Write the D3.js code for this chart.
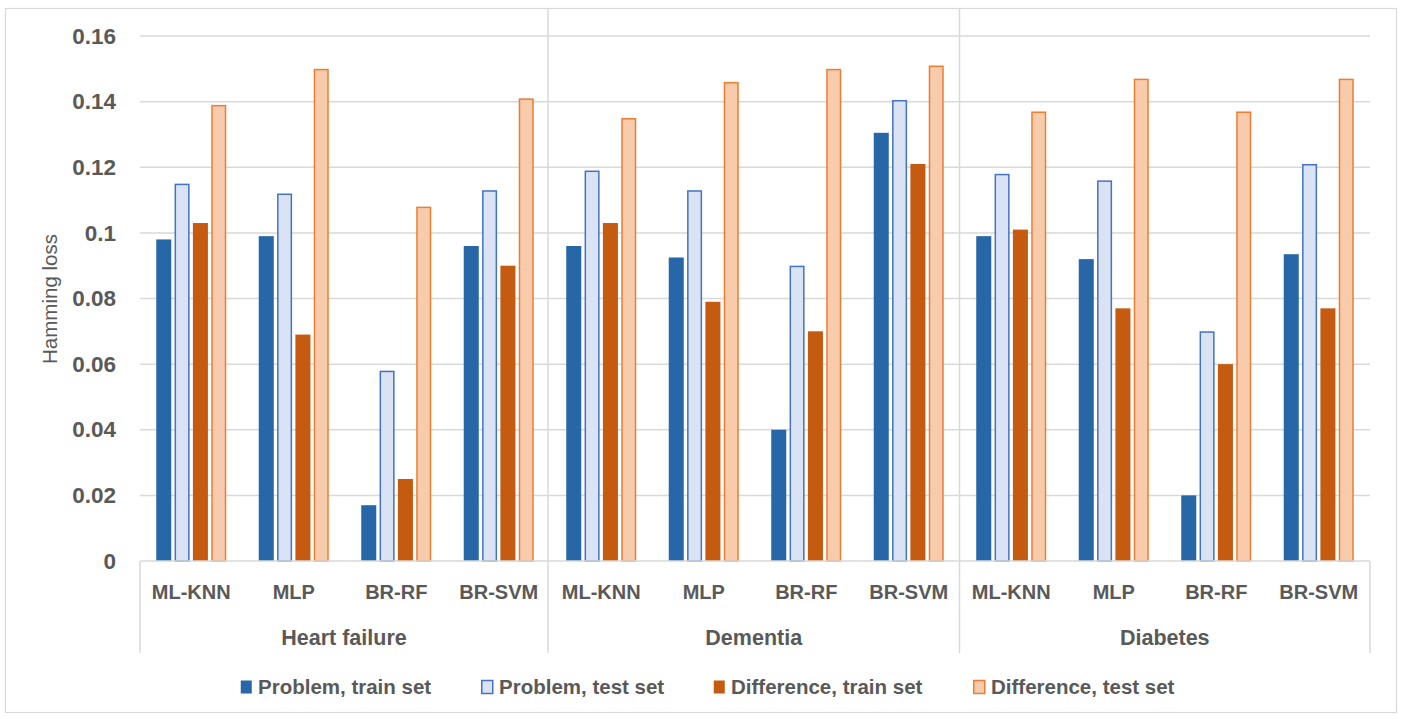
<!DOCTYPE html>
<html><head><meta charset="utf-8">
<script src="https://cdn.jsdelivr.net/npm/d3@7"></script>
<style>
html,body{margin:0;padding:0;background:#fff;}
text{font-family:"Liberation Sans",Arial,sans-serif;fill:#595959;}
</style></head>
<body><svg id="chart" width="1404" height="719"></svg>
<script>
const groups = ["Heart failure","Dementia","Diabetes"];
const models = ["ML-KNN","MLP","BR-RF","BR-SVM"];
const seriesNames = ["Problem, train set","Problem, test set","Difference, train set","Difference, test set"];
// values per group, per model (order of models)
const problemTrain = [0.098,0.099,0.017,0.096, 0.096,0.0925,0.040,0.1305, 0.099,0.092,0.020,0.0935];
const problemTest  = [0.115,0.112,0.058,0.113, 0.119,0.113,0.090,0.1405, 0.118,0.116,0.070,0.121];
const diffTrain    = [0.103,0.069,0.025,0.090, 0.103,0.079,0.070,0.121, 0.101,0.077,0.060,0.077];
const diffTest     = [0.139,0.150,0.108,0.141, 0.135,0.146,0.150,0.151, 0.137,0.147,0.137,0.147];
const yTicks = [0,0.02,0.04,0.06,0.08,0.1,0.12,0.14,0.16];
const yTickLabels = ["0","0.02","0.04","0.06","0.08","0.1","0.12","0.14","0.16"];

const seriesValues = [problemTrain, problemTest, diffTrain, diffTest];
const fills = ["#2767A8","#DAE3F3","#C55A11","#F8CBAD"];
const strokes = ["none","#4472C4","none","#ED7D31"];

const svg = d3.select("#chart");
const L = 140, R = 1370, T = 36, B = 561;

// outer frame
svg.append("rect").attr("x",5.5).attr("y",8.5).attr("width",1391).attr("height",704)
  .attr("fill","#fff").attr("stroke","#d9d9d9").attr("stroke-width",1.2);

const cats = [];
groups.forEach((g,gi)=>models.forEach((m,mi)=>cats.push({g,m,idx:gi*4+mi})));

const x0 = d3.scaleBand().domain(cats.map(c=>c.idx)).range([L,R]).paddingInner(0.317).paddingOuter(0.1585);
const x1 = d3.scaleBand().domain(d3.range(4)).range([0,x0.bandwidth()]).paddingInner(0.18);
const y = d3.scaleLinear().domain([0,0.16]).range([B,T]);

// gridlines
svg.append("g").selectAll("line").data(yTicks.filter(t=>t>0)).join("line")
  .attr("x1",L).attr("x2",R).attr("y1",d=>y(d)).attr("y2",d=>y(d))
  .attr("stroke","#d9d9d9").attr("stroke-width",1.5);

// y axis labels
const yAxis = d3.axisLeft(y).tickValues(yTicks).tickFormat((d,i)=>yTickLabels[i]).tickSize(0).tickPadding(24);
const ya = svg.append("g").attr("transform",`translate(${L},0)`).call(yAxis);
ya.select(".domain").remove();
ya.selectAll("text").style("font-size","22.5px").style("font-weight","bold").attr("fill","#595959")
  .style("font-family","'Liberation Sans',Arial,sans-serif");

// axis title
svg.append("text").attr("transform","translate(57,299) rotate(-90)").attr("text-anchor","middle")
  .style("font-size","20.5px").text("Hamming loss");

// bars
const bars = [];
cats.forEach(c=>seriesValues.forEach((arr,si)=>bars.push({c,si,v:arr[c.idx]})));
svg.append("g").selectAll("rect").data(bars).join("rect")
  .attr("x",d=>x0(d.c.idx)+x1(d.si)+(strokes[d.si]!=="none"?0.75:0))
  .attr("width",d=>x1.bandwidth()-(strokes[d.si]!=="none"?1.5:0))
  .attr("y",d=>y(d.v)+(strokes[d.si]!=="none"?0.75:0))
  .attr("height",d=>B-y(d.v)-(strokes[d.si]!=="none"?0.75:0))
  .attr("fill",d=>fills[d.si]).attr("stroke",d=>strokes[d.si]).attr("stroke-width",1.5);

// category axis
const axG = svg.append("g").attr("stroke","#d9d9d9").attr("stroke-width",1.5);
axG.append("line").attr("x1",L).attr("x2",R).attr("y1",B).attr("y2",B);
const step = x0.step();
const bounds = [L, L+4*step-2, L+8*step-0.5, R];
bounds.forEach((bx,i)=>{
  axG.append("line").attr("x1",bx).attr("x2",bx)
    .attr("y1",(i===0||i===3)?B:8).attr("y2",653);
});

// model labels
svg.append("g").selectAll("text").data(cats).join("text")
  .attr("x",d=>x0(d.idx)+x0.bandwidth()/2).attr("y",599).attr("text-anchor","middle")
  .style("font-size","20px").style("font-weight","bold").text(d=>d.m);

// group labels
svg.append("g").selectAll("text").data(groups).join("text")
  .attr("x",(d,i)=>(bounds[i]+bounds[i+1])/2).attr("y",645).attr("text-anchor","middle")
  .style("font-size","21.5px").style("font-weight","bold").text(d=>d);

// legend
const legX = [240,481,713,973];
const lg = svg.append("g").selectAll("g").data(seriesNames).join("g")
  .attr("transform",(d,i)=>`translate(${legX[i]},687)`);
lg.append("rect").attr("x",d=>0.75).attr("y",-6.5).attr("width",11).attr("height",13)
  .attr("fill",(d,i)=>fills[i]).attr("stroke",(d,i)=>strokes[i]).attr("stroke-width",1.5);
lg.append("text").attr("x",18).attr("y",7).style("font-size","20.5px").style("font-weight","bold").text(d=>d);
</script></body></html>
